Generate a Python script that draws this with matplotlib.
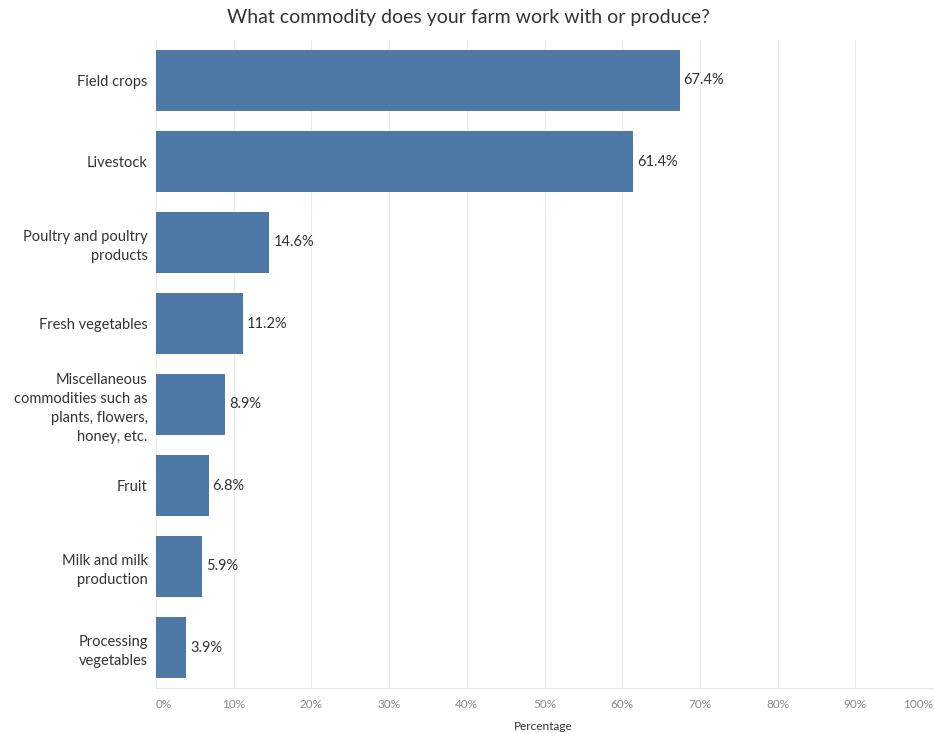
import matplotlib
matplotlib.use("Agg")
import matplotlib.pyplot as plt

categories = ["Field crops", "Livestock", "Poultry and poultry\nproducts", "Fresh vegetables",
              "Miscellaneous\ncommodities such as\nplants, flowers,\nhoney, etc.", "Fruit",
              "Milk and milk\nproduction", "Processing\nvegetables"]
values = [67.4, 61.4, 14.6, 11.2, 8.9, 6.8, 5.9, 3.9]
ticks = [0, 10, 20, 30, 40, 50, 60, 70, 80, 90, 100]
tick_labels = [f"{t}%" for t in ticks]

plt.rcParams['font.family'] = ['Lato', 'DejaVu Sans']

W, H = 935, 733
fig = plt.figure(figsize=(W/100, H/100), dpi=100)
left, right, top, bottom = 156, 933, 40, 688
ax = fig.add_axes([left/W, 1 - bottom/H, (right-left)/W, (bottom-top)/H])

y = list(range(len(categories)))
ax.barh(y, values, height=0.75, color="#4e79a7", zorder=3)
ax.set_ylim(len(categories) - 0.5, -0.5)
ax.set_xlim(0, 100)

for yi, v in zip(y, values):
    ax.text(v + 0.5, yi, f"{v}%", va="center", ha="left", fontsize=10.5, color="#333333", zorder=4)

ax.set_yticks(y)
ax.set_yticklabels(categories, fontsize=10.5, color="#333333", linespacing=1.45)
ax.tick_params(axis="y", length=0, pad=6)

ax.set_xticks(ticks)
ax.set_xticklabels(tick_labels, fontsize=8.5, color="#888888")
ax.tick_params(axis="x", length=0, pad=8)
labs = ax.get_xticklabels()
labs[0].set_ha("left")
labs[-1].set_ha("right")

ax.grid(axis="x", color="#ececec", linewidth=0.8, zorder=0)
for s in ["top", "right", "left"]:
    ax.spines[s].set_visible(False)
ax.spines["bottom"].set_color("#e6e6e6")
ax.spines["bottom"].set_linewidth(0.8)

fig.text(468/W, 1 - 18/H, "What commodity does your farm work with or produce?",
         ha="center", va="center", fontsize=14, color="#333333")
fig.text(543/W, 1 - 726/H, "Percentage", ha="center", va="center", fontsize=8.5, color="#333333")

fig.savefig("out.png", dpi=100, facecolor="white")
